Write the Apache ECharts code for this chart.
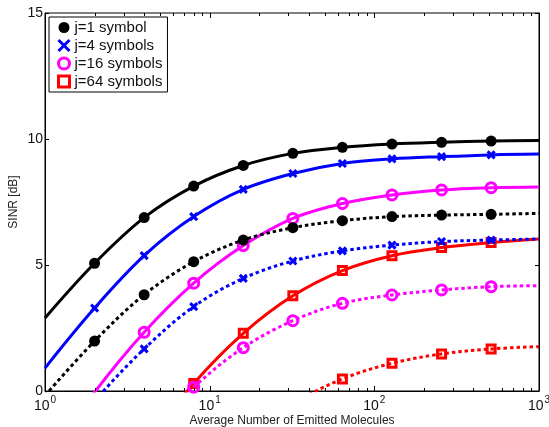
<!DOCTYPE html>
<html>
<head>
<meta charset="utf-8">
<script src="https://cdn.jsdelivr.net/npm/echarts@6/dist/echarts.min.js"></script>
<style>
  html, body { margin: 0; padding: 0; background: #fff; }
  #chart { width: 549px; height: 427px; }
</style>
</head>
<body>
<div id="chart"></div>
<script>
// Average number of emitted molecules (log-spaced sample points)
const molecules = [1, 2, 4, 8, 16, 32, 64, 128, 256, 512, 1000];
// Sample points that carry a marker
const markedMolecules = [2, 4, 8, 16, 32, 64, 128, 256, 512];

// SINR [dB], solid curves
const sinrJ1Solid  = [2.90, 5.07, 6.88, 8.13, 8.95, 9.43, 9.67, 9.80, 9.87, 9.92, 9.94];
const sinrJ4Solid  = [0.91, 3.29, 5.37, 6.92, 8.00, 8.63, 9.03, 9.21, 9.30, 9.37, 9.40];
const sinrJ16Solid = [-2.80, -0.05, 2.33, 4.28, 5.77, 6.85, 7.44, 7.78, 7.98, 8.07, 8.10];
const sinrJ64Solid = [null, null, -2.20, 0.30, 2.29, 3.78, 4.78, 5.37, 5.69, 5.89, 6.03];

// SINR [dB], dotted curves
const sinrJ1Dotted  = [-0.18, 1.98, 3.82, 5.13, 5.99, 6.48, 6.76, 6.92, 6.98, 7.01, 7.05];
const sinrJ4Dotted  = [-2.80, -0.40, 1.67, 3.35, 4.47, 5.16, 5.56, 5.79, 5.93, 5.99, 6.03];
const sinrJ16Dotted = [null, null, -1.90, 0.15, 1.72, 2.79, 3.48, 3.81, 4.01, 4.14, 4.18];
const sinrJ64Dotted = [null, null, null, null, -1.80, -0.50, 0.48, 1.10, 1.47, 1.67, 1.76];

const legendNames = ['j=1 symbol', 'j=4 symbols', 'j=16 symbols', 'j=64 symbols'];
const yTicks = [0, 5, 10, 15];

const FONT = '"Liberation Sans", Arial, Helvetica, sans-serif';
const BLACK = '#000000', BLUE = '#0000ff', MAGENTA = '#ff00ff', RED = '#ff0000';
const CROSS = 'path://M0,0L10,10M10,0L0,10';

const markerStyles = [
  { symbol: 'circle', symbolSize: 11, itemStyle: { color: BLACK, borderWidth: 0 } },
  { symbol: CROSS, symbolSize: 7, itemStyle: { color: BLUE, borderColor: BLUE, borderWidth: 3 } },
  { symbol: 'circle', symbolSize: 10, itemStyle: { color: 'rgba(0,0,0,0)', borderColor: MAGENTA, borderWidth: 3 } },
  { symbol: 'rect', symbolSize: 8, itemStyle: { color: 'rgba(0,0,0,0)', borderColor: RED, borderWidth: 3 } }
];
const colors = [BLACK, BLUE, MAGENTA, RED];

function buildData(values) {
  const out = [];
  molecules.forEach((n, i) => {
    if (values[i] === null) return;
    const item = { value: [n, values[i]] };
    if (markedMolecules.indexOf(n) < 0) item.symbol = 'none';
    out.push(item);
  });
  return out;
}

function curve(idx, values, dotted) {
  const m = markerStyles[idx];
  return {
    type: 'line',
    name: legendNames[idx],
    data: buildData(values),
    smooth: 0.35,
    clip: true,
    showAllSymbol: true,
    symbol: m.symbol,
    symbolSize: m.symbolSize,
    itemStyle: m.itemStyle,
    lineStyle: {
      color: colors[idx],
      width: 3,
      type: dotted ? [3.5, 3] : 'solid',
      cap: 'butt'
    },
    emphasis: { disabled: true },
    animation: false,
    z: dotted ? 4 : 3
  };
}

// log-scale tick marks drawn inward on bottom and top frame edges
const xTickValues = [];
for (let d = 0; d < 3; d++) {
  for (let k = 1; k <= 9; k++) {
    const v = k * Math.pow(10, d);
    if (v > 1 && v < 1000) xTickValues.push(v);
  }
}

const tickSeries = {
  type: 'custom',
  data: xTickValues.map(v => [v, 0]),
  clip: false,
  silent: true,
  animation: false,
  z: 10,
  renderItem: function (params, api) {
    const v = api.value(0);
    const major = Math.abs(Math.log10(v) - Math.round(Math.log10(v))) < 1e-9;
    const len = major ? 5 : 3;
    const bottom = api.coord([v, 0]);
    const top = api.coord([v, 15]);
    const x = Math.round(bottom[0]) + 0.5;
    return {
      type: 'group',
      children: [
        { type: 'line', shape: { x1: x, y1: bottom[1], x2: x, y2: bottom[1] - len }, style: { stroke: BLACK, lineWidth: 1 } },
        { type: 'line', shape: { x1: x, y1: top[1], x2: x, y2: top[1] + len }, style: { stroke: BLACK, lineWidth: 1 } }
      ]
    };
  }
};

const chart = echarts.init(document.getElementById('chart'), null, { renderer: 'canvas' });

chart.setOption({
  backgroundColor: '#ffffff',
  animation: false,
  textStyle: { fontFamily: FONT },
  grid: {
    left: 45, right: 10, top: 13, bottom: 36,
    containLabel: false,
    outerBoundsMode: 'none',
    show: true, borderColor: BLACK, borderWidth: 1, backgroundColor: 'transparent'
  },
  legend: {
    orient: 'vertical',
    left: 49, top: 17,
    padding: [3, 5, 3, 8],
    itemWidth: 11, itemHeight: 11,
    itemGap: 3,
    backgroundColor: '#ffffff',
    borderColor: BLACK, borderWidth: 1,
    selectedMode: false,
    textStyle: { fontFamily: FONT, fontSize: 15, color: '#111' },
    data: [
      { name: legendNames[0], icon: 'circle', itemStyle: { color: BLACK, borderWidth: 0 } },
      { name: legendNames[1], icon: CROSS, itemStyle: { color: BLUE, borderColor: BLUE, borderWidth: 3 } },
      { name: legendNames[2], icon: 'circle', itemStyle: { color: '#ffffff', borderColor: MAGENTA, borderWidth: 3 } },
      { name: legendNames[3], icon: 'rect', itemStyle: { color: '#ffffff', borderColor: RED, borderWidth: 3 } }
    ]
  },
  xAxis: {
    type: 'log',
    logBase: 10,
    min: 1, max: 1000,
    name: 'Average Number of Emitted Molecules',
    nameLocation: 'middle',
    nameGap: 24,
    nameMoveOverlap: false,
    nameTextStyle: { fontFamily: FONT, fontSize: 12, color: '#222' },
    axisLine: { show: true, lineStyle: { color: BLACK, width: 1 } },
    axisTick: { show: false },
    splitLine: { show: false },
    axisLabel: {
      margin: 4,
      formatter: function (v) {
        return '{b|10}{e|' + Math.round(Math.log10(v)) + '}';
      },
      rich: {
        b: { fontFamily: FONT, fontSize: 14, color: '#111', verticalAlign: 'bottom', lineHeight: 18 },
        e: { fontFamily: FONT, fontSize: 10, color: '#111', verticalAlign: 'top', lineHeight: 18, padding: [0, 0, 0, 1] }
      }
    }
  },
  yAxis: [
    {
      type: 'value',
      min: 0, max: 15, interval: 5,
      name: 'SINR [dB]',
      nameLocation: 'middle',
      nameGap: 25,
      nameMoveOverlap: false,
      nameRotate: 90,
      nameTextStyle: { fontFamily: FONT, fontSize: 12, color: '#222' },
      axisLine: { show: true, lineStyle: { color: BLACK, width: 1 } },
      axisTick: { show: true, inside: true, length: 4, lineStyle: { color: BLACK } },
      splitLine: { show: false },
      axisLabel: {
        margin: 2,
        fontFamily: FONT, fontSize: 14, color: '#111',
        formatter: function (v) { return yTicks.indexOf(v) >= 0 ? String(v) : ''; }
      }
    },
    {
      type: 'value',
      position: 'right',
      min: 0, max: 15, interval: 5,
      axisLine: { show: true, lineStyle: { color: BLACK, width: 1 } },
      axisTick: { show: true, inside: true, length: 4, lineStyle: { color: BLACK } },
      splitLine: { show: false },
      axisLabel: { show: false }
    }
  ],
  series: [
    curve(0, sinrJ1Solid, false),
    curve(1, sinrJ4Solid, false),
    curve(2, sinrJ16Solid, false),
    curve(3, sinrJ64Solid, false),
    curve(0, sinrJ1Dotted, true),
    curve(1, sinrJ4Dotted, true),
    curve(2, sinrJ16Dotted, true),
    curve(3, sinrJ64Dotted, true),
    tickSeries
  ]
});
</script>
</body>
</html>
